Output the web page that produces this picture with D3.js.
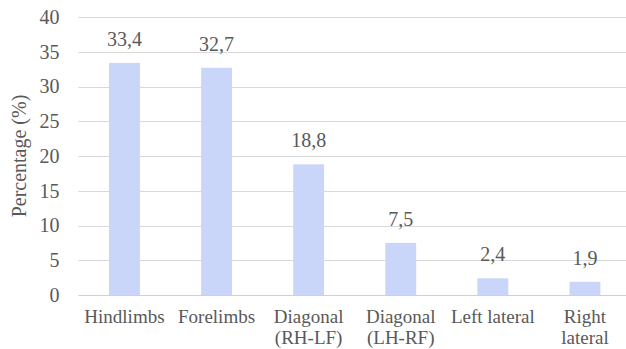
<!DOCTYPE html>
<html>
<head>
<meta charset="utf-8">
<script src="https://cdn.jsdelivr.net/npm/d3@7"></script>
<style>
  html, body { margin: 0; padding: 0; background: #fff; }
  svg { display: block; }
  svg text { font-family: 'Liberation Serif', serif !important; }
</style>
</head>
<body>
<svg id="chart" width="626" height="349"></svg>
<script>
// Share of gait patterns by limb combination
const categories = [["Hindlimbs"], ["Forelimbs"], ["Diagonal", "(RH-LF)"], ["Diagonal", "(LH-RF)"], ["Left lateral"], ["Right", "lateral"]];
const percentages = [33.4, 32.7, 18.8, 7.5, 2.4, 1.9];
const yTicks = [0, 5, 10, 15, 20, 25, 30, 35, 40];

const svg = d3.select("#chart");
const margin = { left: 78.4, right: -5, top: 17, bottom: 54 };
const width = 626, height = 349;
const serif = "'Liberation Serif', serif";
const ink = "#595959";

const keys = categories.map(c => c.join(" "));
const x = d3.scaleBand()
  .domain(keys)
  .range([margin.left, width - margin.right])
  .paddingInner(0.665)
  .paddingOuter(0.3325);

const y = d3.scaleLinear()
  .domain([0, 40])
  .range([height - margin.bottom, margin.top]);

// Horizontal gridlines
svg.append("g")
  .selectAll("line")
  .data(yTicks)
  .join("line")
  .attr("x1", margin.left)
  .attr("x2", width)
  .attr("y1", d => Math.round(y(d)) + 0.5)
  .attr("y2", d => Math.round(y(d)) + 0.5)
  .attr("stroke", d => d === 0 ? "#d0d0d0" : "#d9d9d9")
  .attr("stroke-width", 1.2);

// Y axis labels
const yAxis = d3.axisLeft(y).tickValues(yTicks).tickSize(0).tickPadding(0);
svg.append("g")
  .attr("transform", `translate(${margin.left - 19},0)`)
  .call(yAxis)
  .attr("font-family", null)
  .attr("font-size", null)
  .call(g => g.select(".domain").remove())
  .call(g => g.selectAll("text")
    .style("font-family", serif)
    .style("font-size", "20px")
    .attr("fill", ink));

// Bars
svg.append("g")
  .selectAll("rect")
  .data(percentages)
  .join("rect")
  .attr("x", (d, i) => x(keys[i]))
  .attr("width", x.bandwidth())
  .attr("y", d => y(d))
  .attr("height", d => y(0) - y(d))
  .attr("fill", "#c9d5f9");

// Value labels
svg.append("g")
  .selectAll("text")
  .data(percentages)
  .join("text")
  .style("font-family", serif)
  .style("font-size", "20px")
  .attr("fill", ink)
  .attr("x", (d, i) => x(keys[i]) + x.bandwidth() / 2)
  .attr("y", d => y(d) - 17)
  .attr("text-anchor", "middle")
  .text(d => d.toFixed(1).replace(".", ","));

// Category labels
const cat = svg.append("g")
  .selectAll("text")
  .data(categories)
  .join("text")
  .style("font-family", serif)
  .style("font-size", "19px")
  .attr("fill", ink)
  .attr("text-anchor", "middle")
  .attr("x", (d, i) => x(keys[i]) + x.bandwidth() / 2)
  .attr("y", 323);
cat.selectAll("tspan")
  .data(d => d)
  .join("tspan")
  .attr("x", function () { return d3.select(this.parentNode).attr("x"); })
  .attr("dy", (d, i) => i === 0 ? 0 : 21)
  .text(d => d);

// Y axis title
svg.append("text")
  .style("font-family", serif)
  .style("font-size", "20px")
  .attr("fill", ink)
  .attr("transform", `translate(26,${(margin.top + height - margin.bottom) / 2}) rotate(-90)`)
  .attr("text-anchor", "middle")
  .text("Percentage (%)");
</script>
</body>
</html>
